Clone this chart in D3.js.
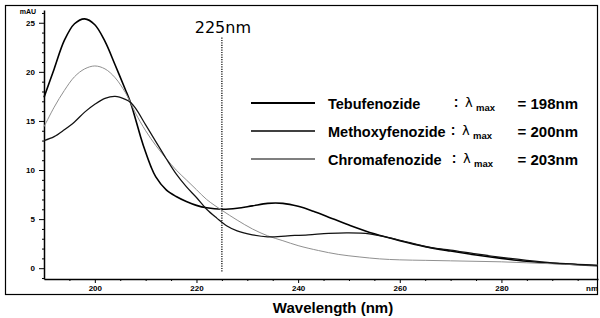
<!DOCTYPE html>
<html>
<head>
<meta charset="utf-8">
<script src="https://cdn.jsdelivr.net/npm/d3@7"></script>
<style>
  body { margin: 0; background: #fff; }
  svg { display: block; }
</style>
</head>
<body>
<div class="vis1"></div>
<script>
// wavelength (nm) / absorbance (mAU)
const tebuNm   = [190, 192, 194, 196, 198, 200, 202, 204, 206, 207, 208, 209, 210, 211, 212, 214, 216, 218, 220, 222, 225, 228, 231, 234, 237, 240, 243, 246, 250, 255, 260, 265, 270, 275, 280, 285, 290, 295, 299];
const tebuVal  = [17.4, 20.3, 23.2, 24.9, 25.4, 24.8, 23.1, 20.7, 18.2, 16.9, 15.2, 13.4, 11.8, 10.4, 9.3, 8.0, 7.3, 6.8, 6.4, 6.15, 6.0, 6.1, 6.35, 6.6, 6.6, 6.3, 5.8, 5.2, 4.4, 3.5, 2.8, 2.2, 1.75, 1.35, 1.0, 0.7, 0.5, 0.35, 0.25];

const methNm   = [190, 192, 194, 196, 198, 200, 202, 204, 206, 207, 208, 210, 212, 214, 216, 218, 220, 222, 225, 228, 231, 234, 237, 240, 244, 248, 252, 256, 260, 265, 270, 275, 280, 285, 290, 295, 299];
const methVal  = [14.4, 16.4, 18.1, 19.5, 20.3, 20.6, 20.3, 19.4, 17.9, 16.9, 15.8, 14.0, 12.5, 11.2, 10.0, 9.0, 8.0, 7.0, 5.9, 4.9, 4.0, 3.3, 2.8, 2.3, 1.8, 1.4, 1.15, 0.95, 0.85, 0.8, 0.75, 0.7, 0.65, 0.55, 0.45, 0.35, 0.3];

const chromNm  = [190, 192, 194, 196, 198, 200, 202, 204, 206, 207, 208, 210, 212, 214, 216, 218, 220, 222, 224, 226, 228, 231, 234, 238, 242, 246, 250, 254, 258, 262, 266, 270, 275, 280, 285, 290, 295, 299];
const chromVal = [13.0, 13.4, 14.1, 14.9, 15.9, 16.7, 17.3, 17.5, 17.2, 16.9, 16.3, 14.6, 12.9, 11.2, 9.6, 8.3, 7.2, 6.0, 5.1, 4.3, 3.8, 3.4, 3.2, 3.3, 3.4, 3.55, 3.6, 3.5, 3.1, 2.6, 2.1, 1.85, 1.45, 1.1, 0.8, 0.55, 0.4, 0.3];

const compounds = ["Tebufenozide", "Methoxyfenozide", "Chromafenozide"];
const lambdaMax = [198, 200, 203];

const yTicks = [0, 5, 10, 15, 20, 25];
const xTicks = [200, 220, 240, 260, 280];
const markNm = 225;

const W = 600, H = 318;

const svg = d3.select(".vis1")
  .append("svg")
  .attr("width", W)
  .attr("height", H)
  .style("font-family", "'Liberation Sans', Arial, sans-serif");

// outer frame
svg.append("rect")
  .attr("x", 5.5).attr("y", 5.5)
  .attr("width", 592).attr("height", 289)
  .attr("fill", "none")
  .attr("stroke", "#000")
  .attr("stroke-width", 1.2);

// scales
const xScale = d3.scaleLinear().domain([190, 299]).range([44, 598]);
const yScale = d3.scaleLinear().domain([-1.1, 26.3]).range([279, 10]);

// x axis, major + minor ticks
const xAxis = svg.append("g")
  .attr("transform", "translate(0," + yScale(-1.1) + ")")
  .call(d3.axisBottom(xScale).tickValues(xTicks).tickSize(4).tickPadding(2).tickSizeOuter(0));
xAxis.selectAll("text").style("font-size", "8px").style("font-weight", "bold");
xAxis.select(".domain").attr("stroke-width", 1.5);

svg.append("g")
  .attr("transform", "translate(0," + yScale(-1.1) + ")")
  .call(d3.axisBottom(xScale).tickValues(d3.range(195, 299, 5).filter(d => d % 20 !== 0)).tickSize(2).tickFormat(""))
  .select(".domain").remove();

svg.append("text")
  .attr("x", 592)
  .attr("y", 291)
  .attr("text-anchor", "middle")
  .style("font-size", "8px")
  .style("font-weight", "bold")
  .text("nm");

// y axis, major + minor ticks
const yAxis = svg.append("g")
  .attr("transform", "translate(" + xScale(190) + ",0)")
  .call(d3.axisLeft(yScale).tickValues(yTicks).tickSize(5).tickPadding(4).tickSizeOuter(0));
yAxis.selectAll("text").style("font-size", "8px").style("font-weight", "bold");
yAxis.select(".domain").attr("stroke-width", 1.5);

svg.append("g")
  .attr("transform", "translate(" + xScale(190) + ",0)")
  .call(d3.axisLeft(yScale).tickValues(d3.range(-1, 27, 1).filter(d => d % 5 !== 0)).tickSize(2).tickFormat(""))
  .select(".domain").remove();

svg.append("text")
  .attr("x", 36)
  .attr("y", 14)
  .attr("text-anchor", "end")
  .style("font-size", "7px")
  .style("font-weight", "bold")
  .text("mAU");

// x axis title
svg.append("text")
  .attr("x", 333)
  .attr("y", 313)
  .attr("text-anchor", "middle")
  .style("font-size", "15px")
  .style("font-weight", "bold")
  .text("Wavelength (nm)");

// 225 nm marker
svg.append("line")
  .attr("x1", xScale(markNm)).attr("x2", xScale(markNm))
  .attr("y1", yScale(23.5)).attr("y2", yScale(-0.4))
  .attr("stroke", "#000")
  .attr("stroke-width", 1.2)
  .attr("stroke-dasharray", "1.2,1.2");

svg.append("text")
  .attr("x", xScale(markNm) + 1)
  .attr("y", 33)
  .attr("text-anchor", "middle")
  .style("font-family", "'DejaVu Sans', sans-serif")
  .style("font-size", "16px")
  .text(markNm + "nm");

// spectra
const line = d3.line()
  .x(d => xScale(d[0]))
  .y(d => yScale(d[1]))
  .curve(d3.curveCatmullRom.alpha(0.5));

const series = [
  { nm: tebuNm, val: tebuVal, color: "#000", width: 1.6 },
  { nm: methNm, val: methVal, color: "#909090", width: 1 },
  { nm: chromNm, val: chromVal, color: "#111", width: 1.25 }
];

series.forEach(s => {
  svg.append("path")
    .datum(d3.zip(s.nm, s.val))
    .attr("fill", "none")
    .attr("stroke", s.color)
    .attr("stroke-width", s.width)
    .attr("d", line);
});

// legend
const legendY = [103, 131, 159];
const legendW = [2.2, 1.6, 1.2];
const colonX = [456, 453, 454];

compounds.forEach((name, i) => {
  const g = svg.append("g").attr("transform", "translate(0," + legendY[i] + ")");
  g.append("line")
    .attr("x1", 251).attr("x2", 315)
    .attr("y1", 0).attr("y2", 0)
    .attr("stroke", "#000")
    .attr("stroke-width", legendW[i]);
  g.append("text")
    .attr("x", 328).attr("y", 5.5)
    .style("font-size", "14.5px")
    .style("font-weight", "bold")
    .text(name);
  g.append("text")
    .attr("x", colonX[i]).attr("y", 4)
    .attr("text-anchor", "middle")
    .style("font-size", "14px")
    .style("font-weight", "bold")
    .text(":");
  g.append("text")
    .attr("x", colonX[i] + 9).attr("y", 4)
    .style("font-family", "'DejaVu Sans', sans-serif")
    .style("font-size", "13px")
    .text("λ");
  g.append("text")
    .attr("x", colonX[i] + 20).attr("y", 8)
    .style("font-size", "9.5px")
    .style("font-weight", "bold")
    .text("max");
  g.append("text")
    .attr("x", 578).attr("y", 5.5)
    .attr("text-anchor", "end")
    .style("font-size", "15px")
    .style("font-weight", "bold")
    .text("= " + lambdaMax[i] + "nm");
});
</script>
</body>
</html>
